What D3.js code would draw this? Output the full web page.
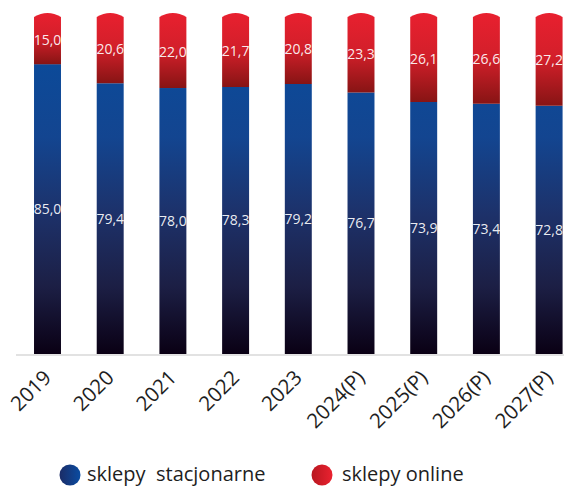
<!DOCTYPE html>
<html>
<head>
<meta charset="utf-8">
<script src="https://cdn.jsdelivr.net/npm/d3@7"></script>
<style>
  html, body { margin: 0; padding: 0; background: #fff; }
  svg { display: block; }
</style>
</head>
<body>
<svg id="chart" width="565" height="486"></svg>
<script>
// Udział kanałów sprzedaży (%)
const years = ["2019", "2020", "2021", "2022", "2023", "2024(P)", "2025(P)", "2026(P)", "2027(P)"];
const stacjonarne = [85.0, 79.4, 78.0, 78.3, 79.2, 76.7, 73.9, 73.4, 72.8];
const online = [15.0, 20.6, 22.0, 21.7, 20.8, 23.3, 26.1, 26.6, 27.2];
const seriesNames = ["sklepy\u00a0 stacjonarne", "sklepy online"];

const fmt = v => v.toFixed(1).replace(".", ",");

const svg = d3.select("#chart");
const defs = svg.append("defs");

const baseY = 354, topY = 13;
const x = d3.scaleBand().domain(years)
  .range([16.15, 580.45]).paddingInner(0.57).paddingOuter(0.285);
const y = d3.scaleLinear().domain([0, 100]).range([baseY, topY]);

// gradients
const gBlue = defs.append("linearGradient").attr("id", "gBlue")
  .attr("gradientUnits", "userSpaceOnUse").attr("x1", 0).attr("x2", 0)
  .attr("y1", 45).attr("y2", baseY);
[[0, "#0a4b9b"], [0.3, "#134590"], [0.55, "#1d3169"], [0.78, "#1c1f45"], [1, "#0a0014"]]
  .forEach(([o, c]) => gBlue.append("stop").attr("offset", o).attr("stop-color", c));

const gRed = defs.append("linearGradient").attr("id", "gRed")
  .attr("x1", 0).attr("x2", 0).attr("y1", 0).attr("y2", 1);
[[0, "#e8202f"], [0.5, "#d21f2a"], [1, "#871414"]]
  .forEach(([o, c]) => gRed.append("stop").attr("offset", o).attr("stop-color", c));

const gLegBlue = defs.append("linearGradient").attr("id", "gLegBlue")
  .attr("x1", 0).attr("x2", 1).attr("y1", 0).attr("y2", 0);
[[0, "#1b2c66"], [1, "#0a4ca2"]]
  .forEach(([o, c]) => gLegBlue.append("stop").attr("offset", o).attr("stop-color", c));
const gLegRed = defs.append("linearGradient").attr("id", "gLegRed")
  .attr("x1", 0).attr("x2", 1).attr("y1", 0).attr("y2", 0);
[[0, "#b8161f"], [1, "#ea2230"]]
  .forEach(([o, c]) => gLegRed.append("stop").attr("offset", o).attr("stop-color", c));

// baseline
svg.append("line").attr("x1", 16).attr("x2", 564)
  .attr("y1", baseY + 1).attr("y2", baseY + 1)
  .attr("stroke", "#e2e2e2").attr("stroke-width", 2);

const rows = years.map((yr, i) => ({ yr, s: stacjonarne[i], o: online[i] }));
const bw = x.bandwidth();
const cap = 4;

// stationary stores (bottom)
svg.append("g").selectAll("rect").data(rows).join("rect")
  .attr("x", d => x(d.yr)).attr("width", bw)
  .attr("y", d => y(d.s)).attr("height", d => y(0) - y(d.s))
  .attr("fill", "url(#gBlue)");

// online stores (top) with an arched cap
svg.append("g").selectAll("path").data(rows).join("path")
  .attr("d", d => {
    const x0 = x(d.yr), x1 = x0 + bw;
    const yb = y(d.s), yt = y(d.s + d.o);
    return `M${x0},${yb}V${yt + cap}Q${x0 + bw / 2},${yt - cap} ${x1},${yt + cap}V${yb}Z`;
  })
  .attr("fill", "url(#gRed)");

// value labels
const lab = svg.append("g").attr("font-family", "'Open Sans', sans-serif")
  .attr("font-size", 14).attr("fill", "#fff").attr("fill-opacity", 0.92)
  .attr("text-anchor", "middle");
lab.selectAll("text.s").data(rows).join("text").attr("class", "s")
  .attr("x", d => x(d.yr) + bw / 2)
  .attr("y", d => (y(0) + y(d.s)) / 2 + 5)
  .text(d => fmt(d.s));
lab.selectAll("text.o").data(rows).join("text").attr("class", "o")
  .attr("x", d => x(d.yr) + bw / 2)
  .attr("y", d => (y(d.s) + y(d.s + d.o)) / 2 + 6)
  .text(d => fmt(d.o));

// x axis
const xAxis = svg.append("g").attr("transform", `translate(0,${baseY})`)
  .call(d3.axisBottom(x).tickSize(0));
xAxis.select(".domain").remove();
xAxis.selectAll("text")
  .attr("font-family", "'Open Sans', sans-serif").attr("font-size", 20.5)
  .attr("fill", "#1e1e1e")
  .attr("text-anchor", "end").attr("dy", 0).attr("x", 0).attr("y", 0)
  .attr("transform", "translate(5,25) rotate(-45)");

// legend
const leg = svg.append("g").attr("font-family", "'Open Sans', sans-serif")
  .attr("font-size", 20).attr("fill", "#1e1e1e");
const legItems = [
  { name: seriesNames[0], cx: 70, tx: 87, fill: "url(#gLegBlue)" },
  { name: seriesNames[1], cx: 322, tx: 342, fill: "url(#gLegRed)" }
];
legItems.forEach(it => {
  leg.append("circle").attr("cx", it.cx).attr("cy", 475).attr("r", 10.5).attr("fill", it.fill);
  leg.append("text").attr("x", it.tx).attr("y", 481).text(it.name);
});
</script>
</body>
</html>
